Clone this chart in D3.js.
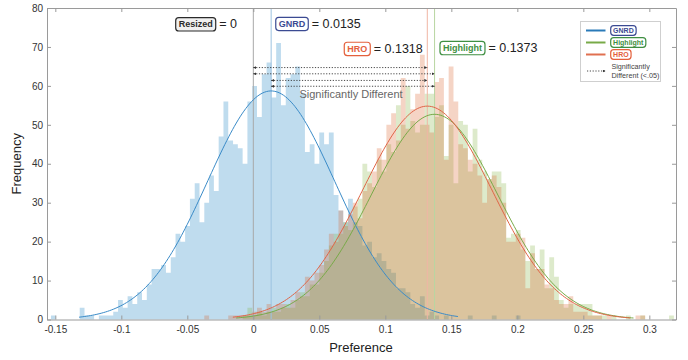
<!DOCTYPE html>
<html>
<head>
<meta charset="utf-8">
<script src="https://cdn.jsdelivr.net/npm/d3@7"></script>
<style>
  body { margin: 0; background: #fff; }
  svg { display: block; font-family: "Liberation Sans", Arial, Helvetica, sans-serif; }
</style>
</head>
<body>
<div id="chart"></div>
<script>
// ---- data ----
const groups = ['GNRD', 'Highlight', 'HRO'];
const binStart = -0.1533;   // left edge of first bin
const binWidth = 0.00363;

const gnrdFirstBin = 0;
const gnrdCounts = [
  1, 0, 0, 0, 0, 0, 3, 1, 1, 0,
  1, 1, 1, 2, 5, 3, 6, 4, 7, 5,
  9, 13, 13, 14, 12, 16, 22, 20, 24, 31,
  35, 25, 30, 37, 33, 47, 56, 46, 45, 44,
  40, 56, 60, 52, 63, 66, 57, 71, 55, 62,
  63, 65, 58, 43, 45, 40, 48, 45, 48, 32,
  28, 25, 31, 25, 24, 19, 20, 16, 17, 15,
  13, 12, 8, 8, 7, 4, 3, 6, 1, 2,
  1, 0, 1, 0, 0, 0, 0, 1, 0, 0,
  0, 0, 1, 0, 0, 0, 0, 1
];

const highlightFirstBin = 40;
const highlightCounts = [
  1, 3, 1, 2, 1, 2, 3, 2, 3, 4,
  3, 5, 7, 6, 9, 9, 12, 15, 19, 22,
  22, 25, 23, 29, 31, 40, 38, 34, 41, 38,
  45, 43, 55, 50, 60, 51, 48, 50, 58, 58,
  52, 55, 42, 50, 35, 51, 50, 38, 49, 41,
  38, 36, 38, 38, 35, 21, 22, 23, 18, 15,
  19, 13, 18, 8, 16, 11, 5, 3, 4, 4,
  4, 4, 4, 1, 1, 1, 0, 1, 0, 0,
  1, 0, 0, 1, 0, 0, 0, 0, 0, 1
];

const hroFirstBin = 32;
const hroCounts = [
  1, 0, 0, 0, 0, 1, 1, 1,
  1, 1, 2, 3, 2, 4, 2, 4, 4, 3,
  5, 7, 6, 11, 10, 12, 14, 18, 22, 20,
  28, 24, 27, 30, 26, 33, 35, 38, 44, 41,
  50, 53, 46, 62, 49, 54, 58, 68, 50, 48,
  61, 62, 41, 65, 56, 45, 44, 41, 40, 37,
  30, 36, 37, 34, 30, 20, 20, 22, 21, 8,
  17, 13, 13, 9, 8, 5, 4, 4, 6, 2,
  2, 2, 1, 1, 1, 0, 1, 0, 0, 0,
  0, 0, 1, 1
];

// normal fits drawn over each histogram
const fitMeans = [0.0135, 0.1373, 0.1318];
const fitSigmas = [0.048, 0.048, 0.049];
const fitPeaks = [58.7, 52.7, 54.8];
const fitRanges = [[-0.132, 0.155], [-0.013, 0.288], [-0.0155, 0.2855]];

const resizedMean = 0;
const meanLabels = ['0', '0.0135', '0.1373', '0.1318'];

// pairs marked significantly different, and the count level of each arrow
const sigPairs = [[0, 0.1318], [0, 0.1373], [0.0135, 0.1318], [0.0135, 0.1373]];
const sigLevels = [64.7, 63.1, 61.4, 59.9];

const xTicks = [-0.15, -0.1, -0.05, 0, 0.05, 0.1, 0.15, 0.2, 0.25, 0.3];
const yTicks = [0, 10, 20, 30, 40, 50, 60, 70, 80];

// ---- styles ----
const barColors = ['#0072BD', '#77AC30', '#D95319'];
const curveColors = ['#3a8bc8', '#78aa48', '#e06446'];
const meanLineColors = ['#9cc2e0', '#b8d6a2', '#f0b6a4'];
const tagColors = ['#3b4a92', '#3f8f42', '#e4603c'];

const width = 688, height = 360;
const svg = d3.select('#chart').append('svg')
  .attr('width', width)
  .attr('height', height);

const x = d3.scaleLinear().domain([-0.1563, 0.3202]).range([47, 676]);
const y = d3.scaleLinear().domain([0, 80]).range([319.5, 8]);

// ---- histograms (one step path each, so adjacent bars have no seams) ----
const area = d3.area()
  .curve(d3.curveStepAfter)
  .x(d => x(d.v))
  .y0(y(0))
  .y1(d => y(d.c));

function histPoints(first, counts) {
  const pts = counts.map((c, i) => ({ v: binStart + (first + i) * binWidth, c }));
  pts.push({ v: binStart + (first + counts.length) * binWidth, c: 0 });
  return pts;
}

const hists = [
  histPoints(gnrdFirstBin, gnrdCounts),
  histPoints(highlightFirstBin, highlightCounts),
  histPoints(hroFirstBin, hroCounts)
];

hists.forEach((pts, i) => {
  svg.append('path')
    .attr('d', area(pts))
    .attr('fill', barColors[i])
    .attr('fill-opacity', 0.25);
});

// ---- mean lines ----
svg.append('line')
  .attr('x1', x(resizedMean)).attr('x2', x(resizedMean))
  .attr('y1', y(80)).attr('y2', y(0))
  .attr('stroke', '#a8a8a8').attr('stroke-width', 1);

fitMeans.forEach((m, i) => {
  svg.append('line')
    .attr('x1', x(m)).attr('x2', x(m))
    .attr('y1', y(80)).attr('y2', y(0))
    .attr('stroke', meanLineColors[i]).attr('stroke-width', 1);
});

// ---- fitted curves ----
const line = d3.line().x(d => x(d[0])).y(d => y(d[1]));
fitMeans.forEach((m, i) => {
  const [a, b] = fitRanges[i];
  const s = fitSigmas[i];
  const pts = d3.range(0, 201).map(k => {
    const v = a + (b - a) * k / 200;
    return [v, fitPeaks[i] * Math.exp(-((v - m) ** 2) / (2 * s * s))];
  });
  svg.append('path')
    .attr('d', line(pts))
    .attr('fill', 'none')
    .attr('stroke', curveColors[i])
    .attr('stroke-width', 1);
});

// ---- axes (box with inward ticks) ----
function styleAxis(g) {
  g.select('.domain').attr('stroke', '#9a9a9a');
  g.selectAll('.tick line').attr('stroke', '#9a9a9a');
  g.selectAll('.tick text').attr('fill', '#333').attr('font-size', 10)
    .attr('font-family', '"Liberation Sans", Arial, Helvetica, sans-serif');
}

svg.append('g')
  .attr('transform', `translate(0,${y(0)})`)
  .call(d3.axisBottom(x).tickValues(xTicks).tickSize(-4).tickSizeOuter(0).tickPadding(6)
    .tickFormat(d => String(d)))
  .call(styleAxis);

svg.append('g')
  .attr('transform', `translate(0,${y(80)})`)
  .call(d3.axisTop(x).tickValues(xTicks).tickSize(-4).tickSizeOuter(0).tickFormat(''))
  .call(styleAxis);

svg.append('g')
  .attr('transform', `translate(${x.range()[0]},0)`)
  .call(d3.axisLeft(y).tickValues(yTicks).tickSize(-4).tickSizeOuter(0).tickPadding(4))
  .call(styleAxis);

svg.append('g')
  .attr('transform', `translate(${x.range()[1]},0)`)
  .call(d3.axisRight(y).tickValues(yTicks).tickSize(-4).tickSizeOuter(0).tickFormat(''))
  .call(styleAxis);

svg.append('text')
  .attr('transform', `translate(18,${(y(0) + y(80)) / 2}) rotate(-90)`)
  .attr('text-anchor', 'middle')
  .attr('dominant-baseline', 'middle')
  .attr('font-size', 13)
  .attr('fill', '#222')
  .text('Frequency');

svg.append('text')
  .attr('x', 361).attr('y', 349)
  .attr('text-anchor', 'middle')
  .attr('dominant-baseline', 'middle')
  .attr('font-size', 13)
  .attr('fill', '#222')
  .text('Preference');

// ---- significance arrows ----
const defs = svg.append('defs');
defs.append('marker')
  .attr('id', 'arrow')
  .attr('viewBox', '0 0 10 10')
  .attr('refX', 10).attr('refY', 5)
  .attr('markerWidth', 3).attr('markerHeight', 3)
  .attr('markerUnits', 'userSpaceOnUse')
  .attr('orient', 'auto-start-reverse')
  .append('path')
  .attr('d', 'M0,0 L10,5 L0,10 z')
  .attr('fill', '#333');

sigPairs.forEach((p, i) => {
  svg.append('line')
    .attr('x1', x(p[0])).attr('x2', x(p[1]))
    .attr('y1', y(sigLevels[i])).attr('y2', y(sigLevels[i]))
    .attr('stroke', '#333')
    .attr('stroke-width', 0.9)
    .attr('stroke-dasharray', '1.2,1.6')
    .attr('marker-start', 'url(#arrow)')
    .attr('marker-end', 'url(#arrow)');
});

svg.append('text')
  .attr('x', x(0.074)).attr('y', y(57.6))
  .attr('text-anchor', 'middle')
  .attr('dominant-baseline', 'middle')
  .attr('font-size', 11)
  .attr('fill', '#666')
  .text('Significantly Different');

// ---- tags: "[name] = mean" ----
function tag(g, x0, yc, label, color, fill, fontSize, h, pad) {
  const t = g.append('text')
    .attr('x', x0 + pad).attr('y', yc)
    .attr('dominant-baseline', 'central')
    .attr('font-size', fontSize)
    .attr('font-weight', 'bold')
    .attr('fill', color)
    .text(label);
  const w = t.node().getComputedTextLength() + 2 * pad;
  g.insert('rect', 'text')
    .attr('x', x0).attr('y', yc - h / 2)
    .attr('width', w).attr('height', h)
    .attr('rx', 3)
    .attr('fill', fill)
    .attr('stroke', color)
    .attr('stroke-width', 1.2);
  return x0 + w;
}

const tagNames = ['Resized', 'GNRD', 'Highlight', 'HRO'];
const tagStroke = ['#2a2a2a', ...tagColors];
const tagFill = ['#f0f0f0', '#fff', '#fff', '#fff'];
const tagAnchors = [[-0.0588, 75.8], [0.0170, 75.9], [0.1414, 69.7], [0.0689, 69.5]];

tagNames.forEach((name, i) => {
  const g = svg.append('g');
  const x0 = x(tagAnchors[i][0]);
  const yc = y(tagAnchors[i][1]);
  const right = tag(g, x0, yc, name, tagStroke[i], tagFill[i], 9, 13.3, 3);
  g.append('text')
    .attr('x', right + 3.5).attr('y', yc)
    .attr('dominant-baseline', 'central')
    .attr('font-size', 12.5)
    .attr('fill', '#222')
    .text('= ' + meanLabels[i]);
});

// ---- legend ----
const lg = svg.append('g');
lg.append('rect')
  .attr('x', 580.5).attr('y', 21.5)
  .attr('width', 80).attr('height', 60)
  .attr('fill', '#fff')
  .attr('stroke', '#cfcfcf')
  .attr('stroke-width', 1);

const legendLine = ['#2a7ab8', '#78aa48', '#e07050'];
groups.forEach((name, i) => {
  const yc = 30.5 + i * 12;
  lg.append('line')
    .attr('x1', 586).attr('x2', 605.5)
    .attr('y1', yc).attr('y2', yc)
    .attr('stroke', legendLine[i])
    .attr('stroke-width', 2);
  tag(lg, 610.7, yc, name, tagColors[i], '#fff', 7, 9.6, 2.4);
});

lg.append('line')
  .attr('x1', 587).attr('x2', 605.5)
  .attr('y1', 71).attr('y2', 71)
  .attr('stroke', '#333')
  .attr('stroke-width', 0.9)
  .attr('stroke-dasharray', '1.2,1.6')
  .attr('marker-end', 'url(#arrow)');

['Significantly', 'Different (<.05)'].forEach((s, i) => {
  lg.append('text')
    .attr('x', 611.4).attr('y', 66.5 + i * 9.3)
    .attr('dominant-baseline', 'central')
    .attr('font-size', 7.2)
    .attr('fill', '#444')
    .text(s);
});
</script>
</body>
</html>
